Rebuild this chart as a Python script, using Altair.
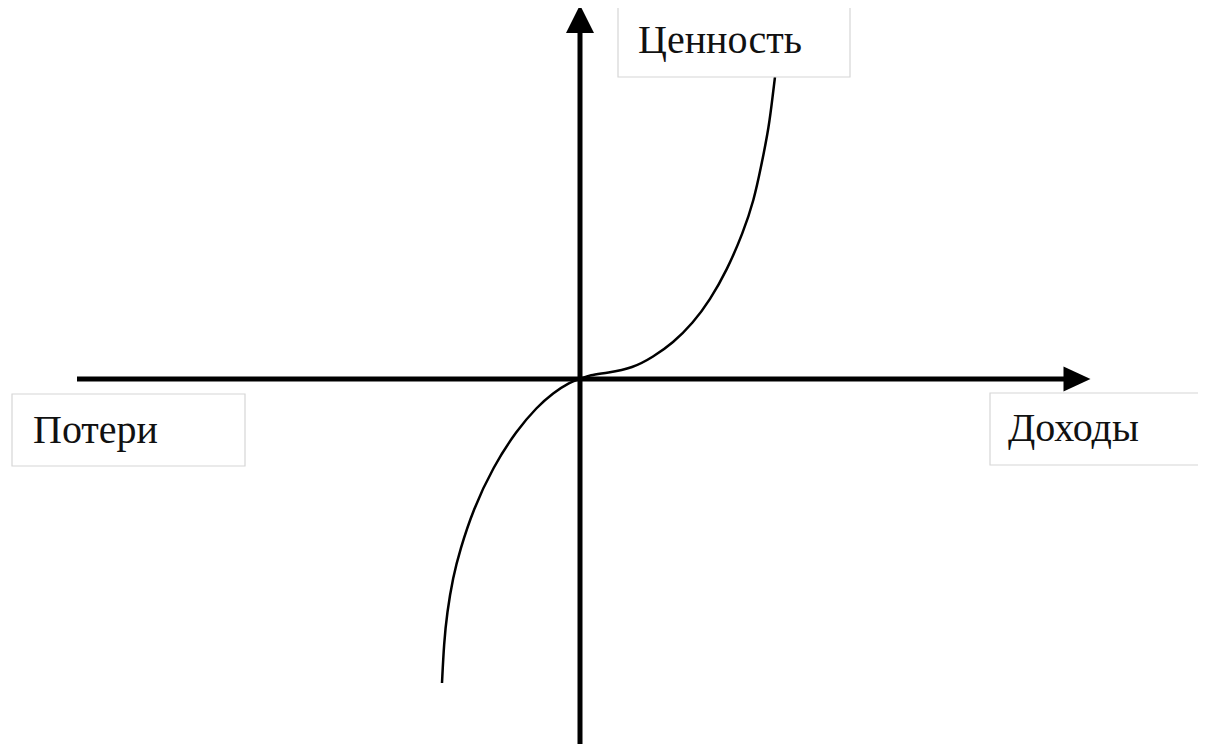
import altair as alt
import pandas as pd

# Value function curve (gains/losses -> value)
curve_x = [-138, -136, -133, -127, -120, -107, -87, -63, -43, -27, -10, 0,
           10, 27, 53, 73, 93, 113, 130, 147, 163, 174, 181, 189, 193, 195]
curve_y = [-304, -264, -234, -198, -171, -131, -88, -51, -28, -14, -3, 0,
           4, 6, 11, 22, 36, 56, 79, 109, 146, 179, 212, 252, 286, 302]

# Axis extents
x_axis = [-503, 486]
y_axis = [-370, 346]

# Labels
labels = ["Ценность", "Потери", "Доходы"]
box_x = [38, -568, 410]
box_x2 = [270, -335, 624]
box_y = [373, -15, -14]
box_y2 = [302, -87, -86]
text_x = [58, -547, 428]
text_y = [326, -64, -62]

XD = [-572, 618]
YD = [-365, 371]
xs = alt.Scale(domain=XD, nice=False, zero=False)
ys = alt.Scale(domain=YD, nice=False, zero=False)

curve_df = pd.DataFrame({"x": curve_x, "y": curve_y, "o": range(len(curve_x))})
lab_df = pd.DataFrame({"label": labels, "bx": box_x, "bx2": box_x2, "by": box_y,
                       "by2": box_y2, "tx": text_x, "ty": text_y})

hax = alt.Chart(pd.DataFrame({"x": [x_axis[0]], "x2": [x_axis[1]], "y": [0]})).mark_rule(
    color="black", strokeWidth=5).encode(
    x=alt.X("x:Q", scale=xs, axis=None), x2="x2:Q", y=alt.Y("y:Q", scale=ys, axis=None))

vax = alt.Chart(pd.DataFrame({"y": [y_axis[0]], "y2": [y_axis[1]], "x": [0]})).mark_rule(
    color="black", strokeWidth=5).encode(
    x=alt.X("x:Q", scale=xs, axis=None), y=alt.Y("y:Q", scale=ys, axis=None), y2="y2:Q")

up_arrow = alt.Chart(pd.DataFrame({"x": [0], "y": [360]})).mark_point(
    shape="M0,-1L1,1L-1,1Z", size=784, filled=True, color="black", opacity=1).encode(
    x=alt.X("x:Q", scale=xs, axis=None), y=alt.Y("y:Q", scale=ys, axis=None))

right_arrow = alt.Chart(pd.DataFrame({"x": [497], "y": [0]})).mark_point(
    shape="M-1,-0.93L1,0L-1,0.93Z", size=729, filled=True, color="black", opacity=1).encode(
    x=alt.X("x:Q", scale=xs, axis=None), y=alt.Y("y:Q", scale=ys, axis=None))

curve = alt.Chart(curve_df).mark_line(color="black", strokeWidth=2.5, interpolate="basis").encode(
    x=alt.X("x:Q", scale=xs, axis=None), y=alt.Y("y:Q", scale=ys, axis=None), order="o:Q")

boxes = alt.Chart(lab_df).mark_rect(fill="white", stroke="#d6d6d6", strokeWidth=1.2).encode(
    x=alt.X("bx:Q", scale=xs, axis=None), x2="bx2:Q",
    y=alt.Y("by:Q", scale=ys, axis=None), y2="by2:Q")

texts = alt.Chart(lab_df).mark_text(
    align="left", baseline="alphabetic", font="Liberation Serif", fontSize=40, color="#111").encode(
    x=alt.X("tx:Q", scale=xs, axis=None), y=alt.Y("ty:Q", scale=ys, axis=None), text="label:N")

chart = alt.layer(hax, vax, up_arrow, right_arrow, curve, boxes, texts).properties(
    width=1190, height=736, padding=0, autosize="none", background="white"
).configure_view(stroke=None)

chart.save("out.html", embed_options={"renderer": "svg", "actions": False})
